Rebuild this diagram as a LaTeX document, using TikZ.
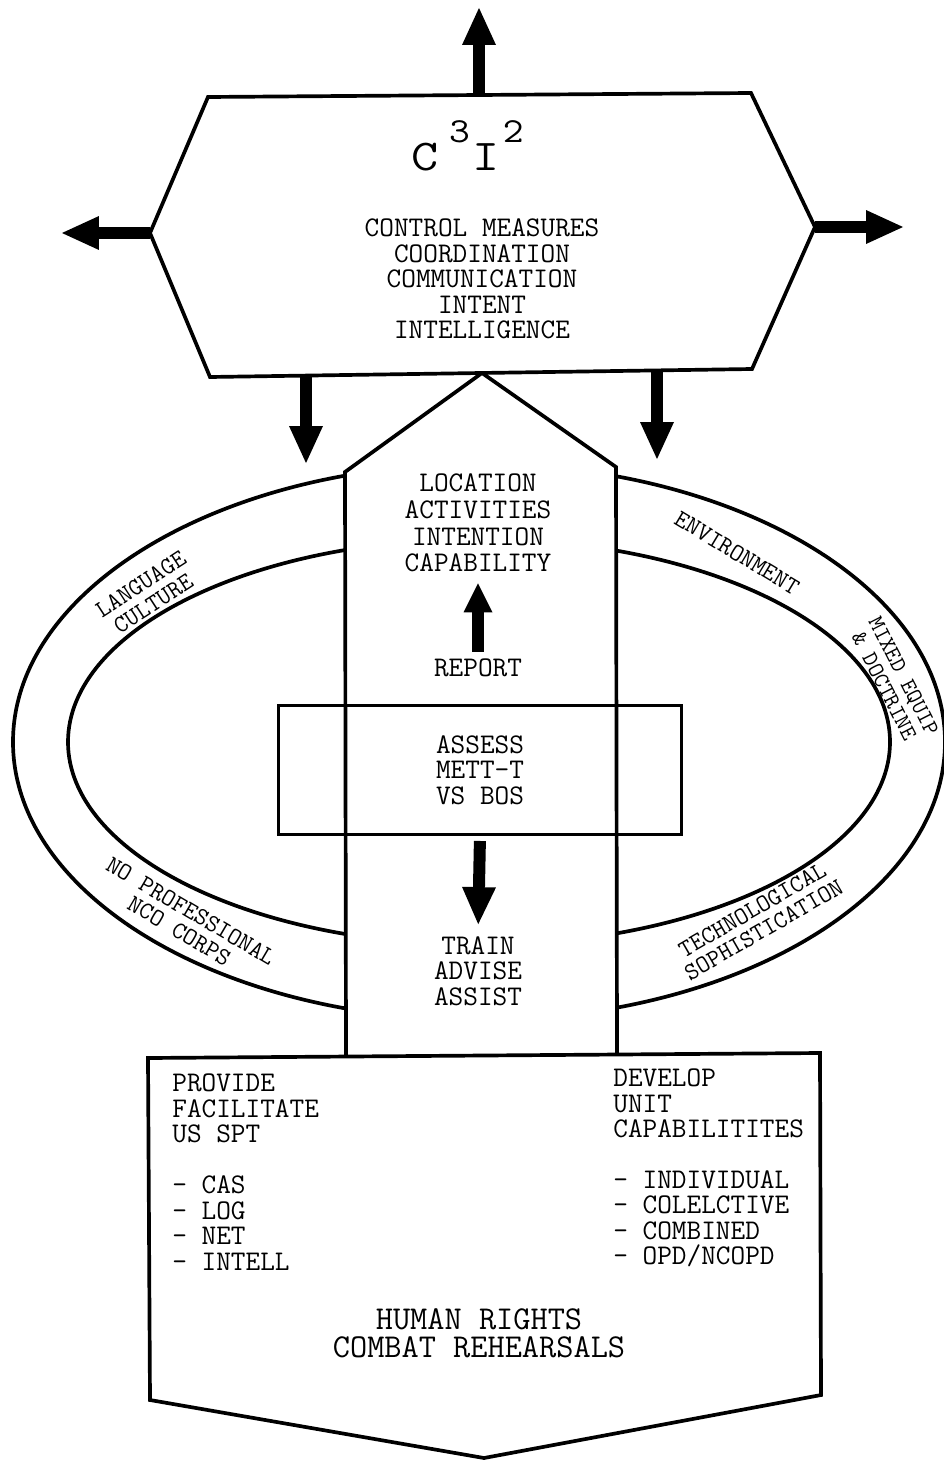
\documentclass[tikz,border=0pt]{standalone}
\usepackage{tikz}
\usetikzlibrary{arrows.meta}
\newcommand{\listsize}{\fontsize{16.2}{14.5}\selectfont}
\newcommand{\colsize}{\fontsize{16.2}{15.2}\selectfont}
\newcommand{\ringsize}{\fontsize{14.1}{13}\selectfont}
\newcommand{\largesize}{\fontsize{19}{15.9}\selectfont}
\newcommand{\wideletter}[1]{\scalebox{1.2}[1]{\fontsize{25}{25}\selectfont #1}}
\newcommand{\supdigit}[1]{\raisebox{15.4pt}{\scalebox{1.15}[1]{\fontsize{20}{20}\selectfont #1}}}

\begin{document}
\begin{tikzpicture}[x=0.02cm, y=-0.02cm,
    every node/.style={inner sep=0pt, font=\ttfamily\listsize, align=center},
    ring/.style={font=\ttfamily\ringsize},
    outline/.style={draw, line width=2.1pt, fill=white, line join=miter},
    bigarrow/.style={line width=0.24cm, -{Triangle[width=0.68cm, length=0.74cm, line width=0pt]}},
    slimarrow/.style={line width=0.24cm, -{Triangle[width=0.58cm, length=0.58cm, line width=0pt]}}]
    \useasboundingbox (0,0) rectangle (943,1460);

    % Outer and inner ring
    \draw[line width=2.1pt] (479,742) ellipse [x radius=466, y radius=278];
    \draw[line width=2.1pt] (479,742) ellipse [x radius=411, y radius=203];

    % Ring labels
    \node[ring, rotate=33] (language) at (147,594) {LANGUAGE\\CULTURE};
    \node[ring, rotate=-31] (environment) at (737,553) {ENVIRONMENT};
    \node[ring, rotate=-63, font=\ttfamily\fontsize{13}{12.5}\selectfont] (mixed) at (894,681)
        {MIXED EQUIP\\\& DOCTRINE};
    \node[ring, rotate=-30.5] (noprof) at (185,921) {NO PROFESSIONAL\\NCO CORPS};
    \node[ring, rotate=30] (techno) at (758,920) {TECHNOLOGICAL\\SOPHISTICATION};

    % Central column
    \coordinate (colBL) at (346,1058);
    \coordinate (colSL) at (345,472);
    \coordinate (colTop) at (482,373);
    \coordinate (colSR) at (616,467);
    \coordinate (colBR) at (617,1054);
    \draw[outline] (colBL) -- (colSL) -- (colTop) -- (colSR) -- (colBR);

    % Hexagon
    \coordinate (hexTL) at (208,97);
    \coordinate (hexTR) at (751,93);
    \coordinate (hexR) at (815,227);
    \coordinate (hexBR) at (752,369);
    \coordinate (hexBL) at (210,377);
    \coordinate (hexL) at (150,233);
    \draw[outline] (hexTL) -- (hexTR) -- (hexR) -- (hexBR) -- (hexBL) -- (hexL) -- cycle;

    % Bottom box
    \coordinate (boxTL) at (148,1058);
    \coordinate (boxTR) at (820,1053);
    \coordinate (boxR) at (821,1395);
    \coordinate (boxTip) at (484,1458);
    \coordinate (boxL) at (150,1400);
    \draw[outline] (boxTL) -- (boxTR) -- (boxR) -- (boxTip) -- (boxL) -- cycle;

    % Hexagon text
    \node[anchor=base west] (title) at (411,170)
        {\wideletter{C}\kern6pt\supdigit{3}\kern1.7pt\wideletter{I}\kern1.7pt\supdigit{2}};
    \node (c3list) at (482,279) {CONTROL MEASURES\\COORDINATION\\COMMUNICATION\\INTENT\\INTELLIGENCE};

    % Column text
    \node[font=\ttfamily\colsize] (location) at (478,523) {LOCATION\\ACTIVITIES\\INTENTION\\CAPABILITY};
    \node (report) at (478,668) {REPORT};
    \node[draw, line width=1.7pt, minimum width=8.06cm, minimum height=2.58cm] (assess) at (480,770)
        {ASSESS\\METT-T\\VS BOS};
    \node (train) at (478,971) {TRAIN\\ADVISE\\ASSIST};

    % Bottom box text
    \node[anchor=west, align=left] (provide) at (172,1172)
        {PROVIDE\\FACILITATE\\US SPT\\[14.5pt]- CAS\\- LOG\\- NET\\- INTELL};
    \node[anchor=west, align=left] (develop) at (613,1168)
        {DEVELOP\\UNIT\\CAPABILITITES\\[14.5pt]- INDIVIDUAL\\- COLELCTIVE\\- COMBINED\\- OPD/NCOPD};
    \node[font=\ttfamily\largesize] (rights) at (479,1333) {HUMAN RIGHTS\\COMBAT REHEARSALS};

    % Arrows
    \coordinate (hexTop) at (479,95);
    \coordinate (upTip) at (479,8);
    \coordinate (leftTip) at (62,233);
    \coordinate (rightTip) at (903,227);
    \coordinate (downL) at (306,376);
    \coordinate (downLTip) at (306,463);
    \coordinate (downR) at (657,370);
    \coordinate (downRTip) at (657,459);
    \draw[bigarrow] (hexTop) -- (upTip);
    \draw[bigarrow] (hexL) -- (leftTip);
    \draw[bigarrow] (hexR) -- (rightTip);
    \draw[bigarrow] (downL) -- (downLTip);
    \draw[bigarrow] (downR) -- (downRTip);
    \draw[slimarrow, shorten <=0.14cm, shorten >=0.22cm] (report.north) -- (location.south);
    \draw[bigarrow, shorten <=0.1cm, shorten >=0.24cm] (assess.south) -- (train.north);
\end{tikzpicture}
\end{document}
